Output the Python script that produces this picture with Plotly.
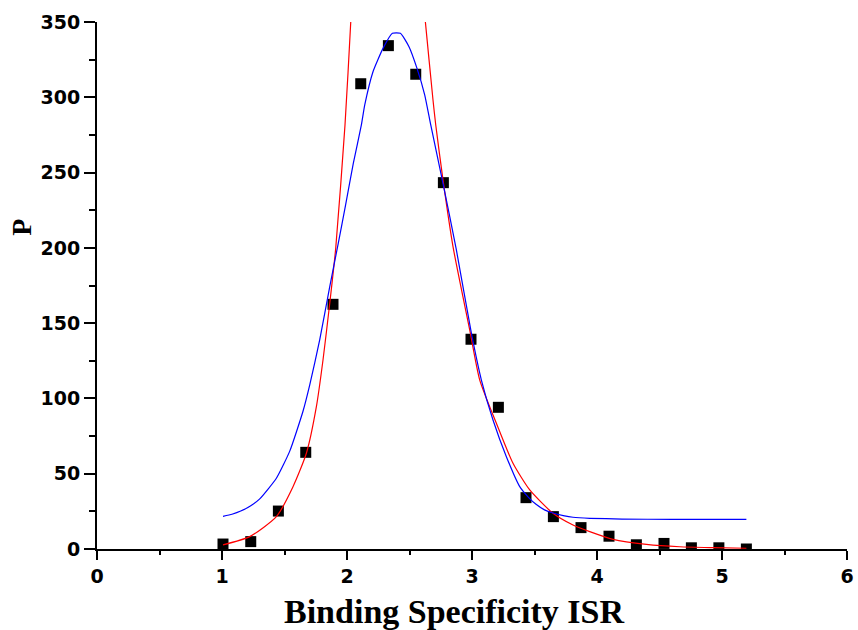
import plotly.graph_objects as go

# measured data points
isr = [1.008, 1.23, 1.451, 1.67, 1.888, 2.11, 2.331, 2.55, 2.771, 2.992,
       3.211, 3.432, 3.651, 3.872, 4.096, 4.315, 4.536, 4.755, 4.975, 5.195]
p_vals = [3.3, 4.9, 25.2, 64.2, 162.5, 309, 334.3, 315.3, 243.3, 139.3,
          94.1, 34.1, 21.5, 14.2, 8.5, 2.8, 3.7, 0.8, 0.8, 0.0]

# blue fitted curve
blue_x = [1.008, 1.08, 1.15, 1.23, 1.302, 1.435, 1.542, 1.648, 1.702, 1.782,
          1.862, 1.93, 1.99, 2.05, 2.115, 2.142, 2.208, 2.288, 2.363, 2.427,
          2.496, 2.56, 2.622, 2.67, 2.768, 2.875, 2.995, 3.075, 3.168, 3.275,
          3.382, 3.45, 3.515, 3.58, 3.648, 3.73, 3.808, 3.942, 4.2, 4.6, 5.195]
blue_y = [21.7, 23.1, 25.2, 28.8, 33.3, 47.0, 65.0, 91.5, 109.0, 139.0,
          174.2, 203, 229, 256, 281.6, 294.9, 317, 332.5, 342.5, 342.5,
          333.6, 319.2, 301.5, 281.6, 242.9, 198.6, 143.3, 112.2, 85.7, 61.3,
          41.4, 34.5, 29.5, 26.0, 23.9, 22.2, 21.1, 20.4, 19.9, 19.7, 19.7]

# red fitted curve (peak runs off the top)
red_x = [1.008, 1.222, 1.435, 1.568, 1.675, 1.755, 1.808, 1.862, 1.91, 1.984,
         2.03, 2.1, 2.33, 2.57, 2.627, 2.688, 2.71, 2.768, 2.848, 2.982,
         3.062, 3.195, 3.328, 3.462, 3.648, 3.808, 3.942, 4.128, 4.395, 4.662,
         4.928, 5.195]
red_y = [2.7, 8.2, 21.5, 41.4, 63.6, 94.5, 125.5, 163.2, 200, 281.6,
         350, 470, 700, 400, 350, 298.2, 281.6, 245.1, 200.8, 145.4,
         112.2, 83.5, 56.9, 39.2, 23.7, 15.9, 11.5, 6.4, 3.1, 1.5,
         0.9, 0.5]

x_ticks = [0, 1, 2, 3, 4, 5, 6]
y_ticks = [0, 50, 100, 150, 200, 250, 300, 350]

fig = go.Figure()
fig.add_trace(go.Scatter(x=isr, y=p_vals, mode="markers",
                         marker=dict(symbol="square", size=11, color="black"),
                         showlegend=False))
fig.add_trace(go.Scatter(x=red_x, y=red_y, mode="lines",
                         line=dict(color="#FF0000", width=1.2, shape="spline", smoothing=0.6),
                         showlegend=False))
fig.add_trace(go.Scatter(x=blue_x, y=blue_y, mode="lines",
                         line=dict(color="#0000FF", width=1.2, shape="spline", smoothing=0.5),
                         showlegend=False))

tickfont = dict(family="DejaVu Sans", size=19, color="black")
fig.update_layout(
    width=858, height=630,
    margin=dict(l=97, r=11, t=22, b=81),
    paper_bgcolor="white", plot_bgcolor="white",
    xaxis=dict(range=[0, 6], tickvals=x_ticks, ticktext=[f"<b>{v}</b>" for v in x_ticks],
               automargin=False,
               showline=True, linecolor="black", linewidth=2,
               ticks="outside", ticklen=9, tickwidth=2, tickcolor="black",
               minor=dict(dtick=0.5, ticks="outside", ticklen=4, tickwidth=2, tickcolor="black"),
               showgrid=False, zeroline=False, tickfont=tickfont),
    yaxis=dict(range=[0, 350], tickvals=y_ticks, ticktext=[f"<b>{v}</b>" for v in y_ticks],
               automargin=False,
               showline=True, linecolor="black", linewidth=2,
               ticks="outside", ticklen=11, tickwidth=2, tickcolor="black",
               minor=dict(dtick=25, ticks="outside", ticklen=6, tickwidth=2, tickcolor="black"),
               showgrid=False, zeroline=False, tickfont=tickfont),
    annotations=[
        dict(text="<b>Binding Specificity ISR</b>", xref="paper", yref="paper",
             x=0.476, y=-0.118, xanchor="center", yanchor="middle", showarrow=False,
             font=dict(family="Liberation Serif", size=34, color="black")),
        dict(text="<b>P</b>", xref="paper", yref="paper",
             x=-0.101, y=0.61, xanchor="center", yanchor="middle", showarrow=False,
             textangle=-90,
             font=dict(family="Liberation Serif", size=28, color="black")),
    ],
)

fig.write_html("out.html")
